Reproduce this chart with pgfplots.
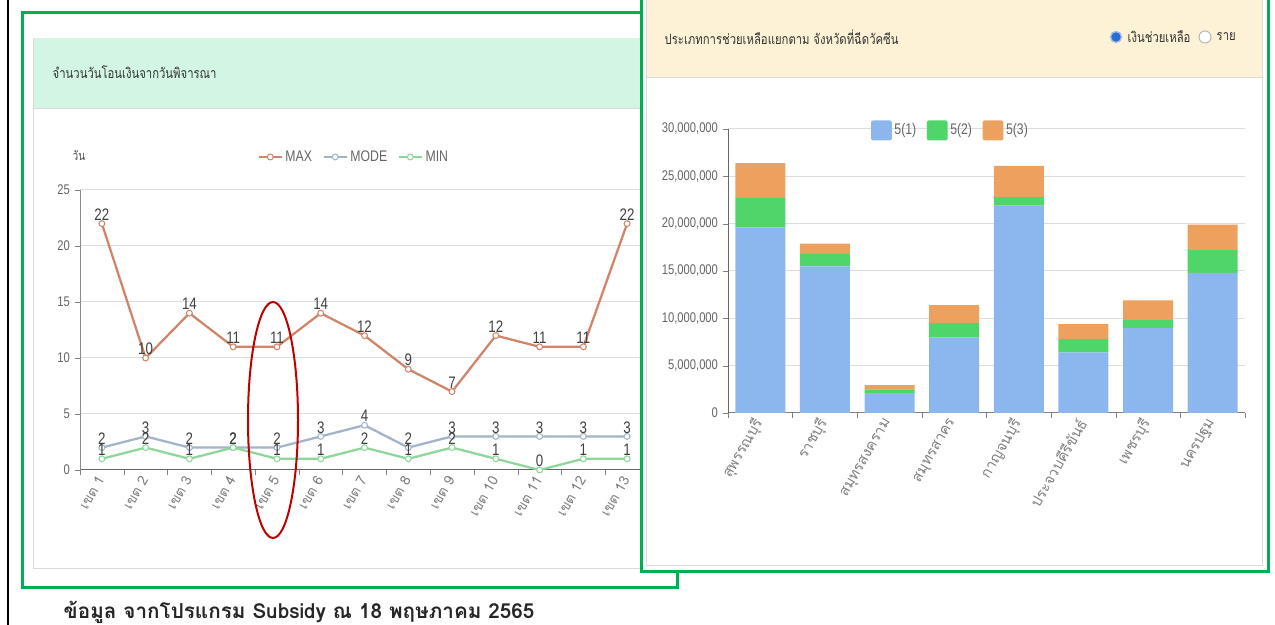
\documentclass[border=0pt]{standalone}
\usepackage{fontspec}
\setmainfont{Liberation Sans}
\newfontfamily\thaifont[Script=Thai]{Loma}
\newfontfamily\thaicond[Script=Thai,FakeStretch=0.8]{Loma}
\newfontfamily\condsans[FakeStretch=0.8]{Liberation Sans}
\usepackage{pgfplots}
\pgfplotsset{compat=1.18}
\definecolor{boxgreen}{HTML}{00B050}
\definecolor{hdrgreen}{HTML}{D3F5E3}
\definecolor{hdrbeige}{HTML}{FDF2D5}
\definecolor{cardline}{HTML}{DADADA}
\definecolor{cmax}{HTML}{D0856A}
\definecolor{cmode}{HTML}{A2B4C8}
\definecolor{cmin}{HTML}{8ED79B}
\definecolor{cb1}{HTML}{8CB7EE}
\definecolor{cb2}{HTML}{4FD668}
\definecolor{cb3}{HTML}{EEA05E}
\definecolor{ticktext}{HTML}{666666}
\definecolor{xlab}{HTML}{808080}
\definecolor{gridc}{HTML}{DDDDDD}
\definecolor{radioblue}{HTML}{2D6CCF}
\pgfplotsset{boxlegend/.style={legend image code/.code={\fill[##1,rounded corners=1.5pt] (0pt,-7.5pt) rectangle (15.5pt,7.5pt);}}}
\begin{document}
\begin{tikzpicture}[x=0.75pt,y=0.75pt]
\useasboundingbox (0,0) rectangle (1275,625);
\fill[white] (0,0) rectangle (1275,625);
\draw[black,line width=1.5pt] (8,0) -- (8,625);
% ---------- left panel ----------
\draw[boxgreen,line width=2.25pt] (22,612) rectangle (677,37);
\draw[cardline,fill=white] (33,587) rectangle (665,57);
\fill[hdrgreen] (33.5,586.5) rectangle (664.5,517);
\draw[cardline] (33,517) -- (665,517);
\node[anchor=west,font=\thaicond\fontsize{10.6}{12}\selectfont,text=black!80] at (48,553) {จำนวนวันโอนเงินจากวันพิจารณา};
\node[anchor=center,font=\thaicond\fontsize{9.5}{10}\selectfont,text=black!70] at (79,470) {วัน};
\begin{axis}[at={(60pt,116.25pt)},anchor=south west,
  width=426.75pt,height=210pt,scale only axis,
  xmin=0.5,xmax=13.5,ymin=0,ymax=25,
  xtick={1,...,13},
  xticklabels={เขต 1,เขต 2,เขต 3,เขต 4,เขต 5,เขต 6,เขต 7,เขต 8,เขต 9,เขต 10,เขต 11,เขต 12,เขต 13},
  xticklabel style={font=\thaifont\fontsize{10.5}{11}\selectfont,rotate=60,anchor=east,text=xlab,inner sep=1.5pt},
  minor xtick={0.5,1.5,...,13.5},
  major x tick style={draw=none},
  ytick={0,5,...,25},
  axis x line*=bottom, axis y line*=left,
  tick align=outside, major tick length=4pt, minor tick length=4pt,
  tick style={black!50},
  ymajorgrids, grid style={gridc,line width=0.75pt},
  x axis line style={black!60,line width=0.75pt}, y axis line style={black!45},
  yticklabel style={font=\condsans\fontsize{10.5}{11}\selectfont,text=ticktext},
  /pgf/number format/assume math mode=true,
  clip=false,
  legend style={at={(0.482,1.118)},anchor=center,draw=none,fill=none,legend columns=-1,
    font=\condsans\fontsize{11.5}{12}\selectfont,text=ticktext,
    /tikz/every even column/.append style={column sep=6pt}},
  nodes near coords,
  nodes near coords style={font=\condsans\fontsize{12.5}{13}\selectfont,text=black!75,anchor=south,inner sep=2pt},
]
\addplot[cmax,line width=1.7pt,mark=*,mark size=2.2pt,mark options={fill=white,line width=0.8pt}]
 coordinates {(1,22)(2,10)(3,14)(4,11)(5,11)(6,14)(7,12)(8,9)(9,7)(10,12)(11,11)(12,11)(13,22)};
\addplot[cmode,line width=1.7pt,mark=*,mark size=2.2pt,mark options={fill=white,line width=0.8pt}]
 coordinates {(1,2)(2,3)(3,2)(4,2)(5,2)(6,3)(7,4)(8,2)(9,3)(10,3)(11,3)(12,3)(13,3)};
\addplot[cmin,line width=1.7pt,mark=*,mark size=2.2pt,mark options={fill=white,line width=0.8pt}]
 coordinates {(1,1)(2,2)(3,1)(4,2)(5,1)(6,1)(7,2)(8,1)(9,2)(10,1)(11,0)(12,1)(13,1)};
\legend{MAX,MODE,MIN}
\end{axis}
% red ellipse highlight
\draw[red!75!black,line width=1.5pt] (273,205) ellipse (25 and 118);
% ---------- right panel ----------
\draw[boxgreen,line width=2.25pt,fill=white] (641,632) rectangle (1268,53);
\draw[cardline,fill=white] (646,632) rectangle (1262,60);
\fill[hdrbeige] (646.5,632) rectangle (1261.5,548);
\draw[cardline] (646,548) -- (1262,548);
\node[anchor=west,font=\thaicond\fontsize{10.6}{12}\selectfont,text=black!80] at (660,588) {ประเภทการช่วยเหลือแยกตาม จังหวัดที่ฉีดวัคซีน};
\draw[radioblue!45,line width=1pt,fill=radioblue] (1116,588) circle (5.5);
\node[anchor=west,font=\thaicond\fontsize{10.6}{12}\selectfont,text=black!80] at (1123,588) {เงินช่วยเหลือ};
\draw[gray!55,line width=0.8pt,fill=white] (1205,588) circle (6);
\node[anchor=west,font=\thaicond\fontsize{10.6}{12}\selectfont,text=black!80] at (1212,588) {ราย};
\begin{axis}[at={(546pt,159pt)},anchor=south west,
  width=387.75pt,height=213pt,scale only axis,
  ybar stacked, bar width=37.5pt,
  xmin=0.5,xmax=8.5,ymin=0,ymax=30,
  xtick={1,...,8},
  xticklabels={สุพรรณบุรี,ราชบุรี,สมุทรสงคราม,สมุทรสาคร,กาญจนบุรี,ประจวบคีรีขันธ์,เพชรบุรี,นครปฐม},
  xticklabel style={font=\thaifont\fontsize{11}{12}\selectfont,rotate=60,anchor=east,text=xlab,inner sep=1.5pt},
  minor xtick={0.5,1.5,...,8.5},
  major x tick style={draw=none},
  ytick={0,5,10,15,20,25,30},
  yticklabels={0,{5,000,000},{10,000,000},{15,000,000},{20,000,000},{25,000,000},{30,000,000}},
  axis x line*=bottom, axis y line*=left,
  tick align=outside, major tick length=4pt, minor tick length=4pt,
  tick style={black!50},
  ymajorgrids, grid style={gridc,line width=0.75pt},
  x axis line style={black!50,line width=0.75pt}, y axis line style={black!60},
  yticklabel style={font=\condsans\fontsize{10.5}{11}\selectfont,text=ticktext},
  clip=false,
  legend style={at={(0.431,0.995)},anchor=center,draw=none,fill=none,legend columns=-1,
    font=\condsans\fontsize{11.5}{12}\selectfont,text=ticktext,
    /tikz/every even column/.append style={column sep=6pt}},
]
\addplot[fill=cb1,draw=none,boxlegend] coordinates {(1,19.6)(2,15.5)(3,2.1)(4,8.0)(5,21.9)(6,6.4)(7,9.0)(8,14.8)};
\addplot[fill=cb2,draw=none,boxlegend] coordinates {(1,3.1)(2,1.3)(3,0.4)(4,1.5)(5,0.9)(6,1.4)(7,0.8)(8,2.4)};
\addplot[fill=cb3,draw=none,boxlegend] coordinates {(1,3.7)(2,1.1)(3,0.45)(4,1.9)(5,3.3)(6,1.6)(7,2.1)(8,2.7)};
\legend{5(1),5(2),5(3)}
\end{axis}
% ---------- footer ----------
\node[anchor=west,font=\thaifont\bfseries\fontsize{15.5}{18}\selectfont,text=black!85] at (59,13) {ข้อมูล จากโปรแกรม Subsidy ณ 18 พฤษภาคม 2565};
\end{tikzpicture}
\end{document}
